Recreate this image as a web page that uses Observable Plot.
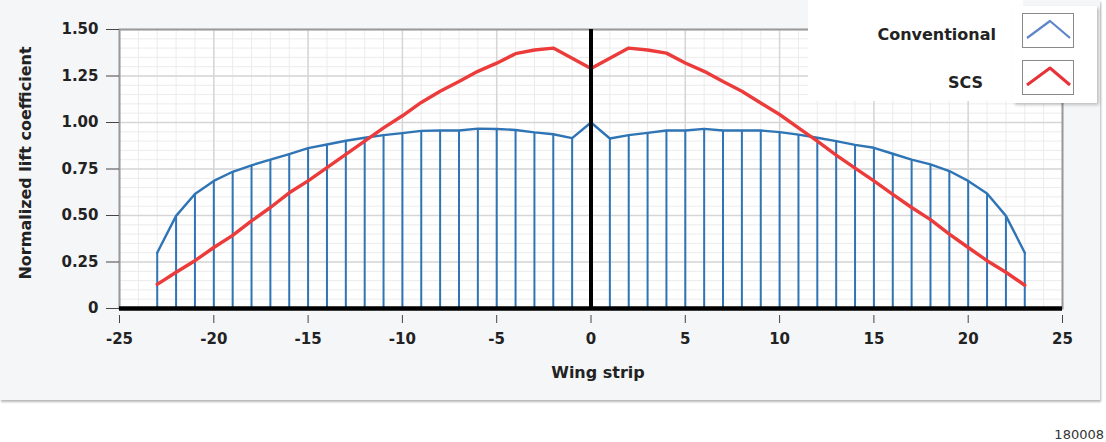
<!DOCTYPE html>
<html>
<head>
<meta charset="utf-8">
<script src="https://cdn.jsdelivr.net/npm/d3@7"></script>
<script src="https://cdn.jsdelivr.net/npm/@observablehq/plot@0.6"></script>
<style>
  html, body { margin: 0; padding: 0; background: #ffffff; }
  #wrap { position: relative; width: 1106px; height: 442px; overflow: hidden; background: #ffffff; font-family: "DejaVu Sans", sans-serif; }
  #panel { position: absolute; left: 0; top: 0; width: 1100px; height: 400px; background: #f5f6f8; box-shadow: 1px 2px 2px rgba(0,0,0,0.28); }
  #chart { position: absolute; left: 0; top: 0; }
  #legendBlock { position: absolute; left: 808px; top: 0; width: 215px; height: 101px; background: #ffffff; }
  #legendIcons { position: absolute; left: 1013px; top: 6px; width: 84px; height: 97px; background: #ffffff; box-shadow: 2px 2px 3px rgba(0,0,0,0.22); }
  .lg { position: absolute; font-weight: bold; font-size: 16px; color: #222; white-space: nowrap; line-height: 1; }
  #caption { position: absolute; right: 2px; top: 428px; font-size: 13px; color: #333; white-space: nowrap; line-height: 1; }
</style>
</head>
<body>
<div id="wrap">
  <div id="panel"></div>
  <div id="chart"></div>
  <div id="legendBlock"></div>
  <div id="legendIcons"></div>
  <div id="legendText"></div>
  <div id="caption"></div>
</div>
<script>
// ---- data ----
const strips = [-23,-22,-21,-20,-19,-18,-17,-16,-15,-14,-13,-12,-11,-10,-9,-8,-7,-6,-5,-4,-3,-2,-1,0,
                1,2,3,4,5,6,7,8,9,10,11,12,13,14,15,16,17,18,19,20,21,22,23];
const conventional = [0.30,0.498,0.616,0.686,0.735,0.77,0.80,0.83,0.862,0.882,0.902,0.918,0.932,0.943,0.955,0.957,0.957,0.967,0.965,0.96,0.947,0.937,0.916,1.00,
                      0.914,0.932,0.944,0.957,0.957,0.966,0.957,0.957,0.957,0.948,0.935,0.918,0.90,0.88,0.864,0.832,0.80,0.775,0.739,0.686,0.618,0.498,0.30];
const scs = [0.13,0.195,0.257,0.328,0.393,0.471,0.543,0.622,0.686,0.757,0.829,0.90,0.971,1.036,1.108,1.168,1.22,1.275,1.319,1.37,1.39,1.40,1.346,1.29,
             1.346,1.40,1.39,1.373,1.32,1.275,1.22,1.168,1.105,1.043,0.971,0.90,0.825,0.755,0.686,0.614,0.543,0.478,0.40,0.328,0.257,0.195,0.125];
const xTicks = [-25,-20,-15,-10,-5,0,5,10,15,20,25];
const xTickLabels = ["-25","-20","-15","-10","-5","0","5","10","15","20","25"];
const yTicks = [0,0.25,0.5,0.75,1,1.25,1.5];
const yTickLabels = ["0","0.25","0.50","0.75","1.00","1.25","1.50"];
const seriesNames = ["Conventional","SCS"];
const seriesColors = ["#2f74b5","#ec3b3b"];
const legendIconColors = ["#5f86c8","#e8323a"];
const xLabel = "Wing strip";
const yLabel = "Normalized lift coefficient";
const captionText = "180008";

const rows = strips.map((s, i) => ({strip: s, conventional: conventional[i], scs: scs[i]}));
const xMinor = d3.range(-25, 25.001, 1);
const yMinor = d3.range(0, 1.5001, 0.05);

const chart = Plot.plot({
  width: 1106,
  height: 400,
  marginLeft: 119,
  marginRight: 44,
  marginTop: 29,
  marginBottom: 92,
  x: {domain: [-25, 25]},
  y: {domain: [0, 1.5]},
  style: {background: "transparent", fontFamily: "DejaVu Sans", fontWeight: "bold", fontSize: "15px", color: "#222"},
  marks: [
    Plot.frame({fill: "#ffffff"}),
    Plot.gridX(xMinor, {stroke: "#ececec", strokeOpacity: 1, strokeWidth: 1}),
    Plot.gridY(yMinor, {stroke: "#ececec", strokeOpacity: 1, strokeWidth: 1}),
    Plot.gridX(xTicks, {stroke: "#d6d6d6", strokeOpacity: 1, strokeWidth: 1.5}),
    Plot.gridY(yTicks, {stroke: "#d6d6d6", strokeOpacity: 1, strokeWidth: 1.5}),
    Plot.frame({stroke: "#9a9a9a", strokeWidth: 2}),
    Plot.ruleX(rows.filter(d => d.strip !== 0), {x: "strip", y1: 0, y2: "conventional", stroke: seriesColors[0], strokeWidth: 2}),
    Plot.line(rows, {x: "strip", y: "conventional", stroke: seriesColors[0], strokeWidth: 2.4}),
    Plot.line(rows, {x: "strip", y: "scs", stroke: seriesColors[1], strokeWidth: 3.4}),
    Plot.ruleX([0], {stroke: "#000", strokeWidth: 4}),
    Plot.ruleY([0], {stroke: "#000", strokeWidth: 4.5}),
    Plot.axisY(yTicks, {tickFormat: d => yTickLabels[yTicks.indexOf(d)], tickSize: 13, tickPadding: 8, label: null, stroke: "#444", fontSize: 15, fontWeight: "bold"}),
    Plot.axisX(xTicks, {tickFormat: d => xTickLabels[xTicks.indexOf(d)], tickSize: 8, dy: 7, tickPadding: 10, label: null, stroke: "#444", fontSize: 15, fontWeight: "bold"}),
    Plot.text([yLabel], {frameAnchor: "left", textAnchor: "middle", dx: -94, dy: -6, rotate: -90, fontSize: 16, fontWeight: "bold", fill: "#222"}),
    Plot.text([xLabel], {frameAnchor: "bottom", dy: 69, dx: 7, fontSize: 16, fontWeight: "bold", fill: "#222"})
  ]
});
document.getElementById("chart").appendChild(chart);

// ---- legend ----
const lt = document.getElementById("legendText");
const textPos = [{right: 1106 - 996, top: 27}, {right: 1106 - 983, top: 75}];
seriesNames.forEach((name, i) => {
  const d = document.createElement("div");
  d.className = "lg";
  d.textContent = name;
  d.style.right = textPos[i].right + "px";
  d.style.top = textPos[i].top + "px";
  lt.appendChild(d);
});
const icons = document.getElementById("legendIcons");
const iconTops = [7, 54];
legendIconColors.forEach((c, i) => {
  const box = document.createElementNS("http://www.w3.org/2000/svg", "svg");
  box.setAttribute("width", 52);
  box.setAttribute("height", 35);
  box.style.position = "absolute";
  box.style.left = "9px";
  box.style.top = iconTops[i] + "px";
  box.innerHTML = `<rect x="0.5" y="0.5" width="51" height="34" fill="#fff" stroke="#8a8a8a"/>
    <polyline points="5,25 28,8 48,25" fill="none" stroke="${c}" stroke-width="${i === 0 ? 2.2 : 3}" stroke-linejoin="round"/>`;
  icons.appendChild(box);
});
document.getElementById("caption").textContent = captionText;
</script>
</body>
</html>
